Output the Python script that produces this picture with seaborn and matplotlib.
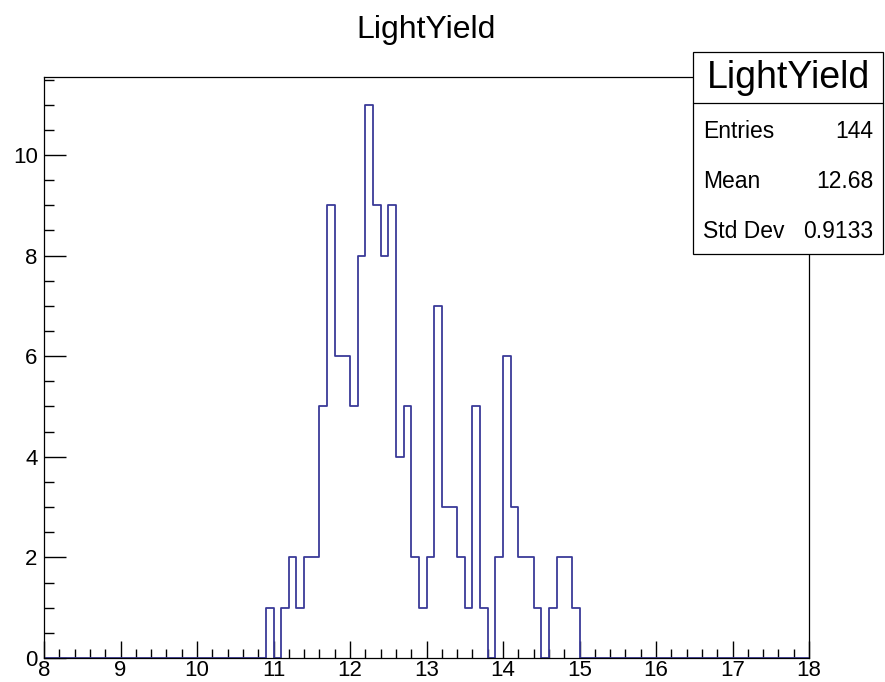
import numpy as np
import pandas as pd
import matplotlib
matplotlib.use("Agg")
import matplotlib.pyplot as plt
from matplotlib.patches import Rectangle
from matplotlib.ticker import MultipleLocator
import seaborn as sns

# ---- data (100 bins from 8 to 18) ----
bin_centers = [10.95, 11.05, 11.15, 11.25, 11.35, 11.45, 11.55, 11.65, 11.75, 11.85,
               11.95, 12.05, 12.15, 12.25, 12.35, 12.45, 12.55, 12.65, 12.75, 12.85,
               12.95, 13.05, 13.15, 13.25, 13.35, 13.45, 13.55, 13.65, 13.75, 13.85,
               13.95, 14.05, 14.15, 14.25, 14.35, 14.45, 14.55, 14.65, 14.75, 14.85,
               14.95]
counts = [1, 0, 1, 2, 1, 2, 2, 5, 9, 6,
          6, 5, 8, 11, 9, 8, 9, 4, 5, 2,
          1, 2, 7, 3, 3, 2, 1, 5, 1, 0,
          2, 6, 3, 2, 2, 1, 0, 1, 2, 2,
          1]
x_min, x_max, n_bins = 8, 18, 100
stats_labels = ["Entries", "Mean", "Std Dev"]
stats_values = ["144", "12.68", "0.9133"]
title = "LightYield"

df = pd.DataFrame({"LightYield": bin_centers, "count": counts})

sns.set_style("ticks")
plt.rcParams["font.family"] = ["Liberation Sans", "DejaVu Sans"]
plt.rcParams["text.color"] = "black"
plt.rcParams["xtick.color"] = "black"
plt.rcParams["ytick.color"] = "black"
plt.rcParams["xtick.labelcolor"] = "black"
plt.rcParams["ytick.labelcolor"] = "black"

fig = plt.figure(figsize=(8.85, 6.82), dpi=100)
ax = fig.add_axes([44 / 885, 1 - 658 / 682, (809 - 44) / 885, (658 - 77) / 682])

sns.histplot(data=df, x="LightYield", weights="count", bins=n_bins,
             binrange=(x_min, x_max),
             element="step", fill=False, color="#3a3a98", linewidth=1.3, ax=ax)

ax.set_xlim(x_min, x_max)
ax.set_ylim(0, 11.55)
ax.set_xlabel("")
ax.set_ylabel("")

for s in ax.spines.values():
    s.set_visible(True)
    s.set_color("black")
    s.set_linewidth(0.9)
    s.set_zorder(5)

ax.xaxis.set_major_locator(MultipleLocator(1))
ax.xaxis.set_minor_locator(MultipleLocator(0.2))
ax.yaxis.set_major_locator(MultipleLocator(2))
ax.yaxis.set_minor_locator(MultipleLocator(0.5))

ax.tick_params(axis="x", which="major", direction="in", length=12, width=1.0,
               labelsize=16, pad=1.5, top=False, colors="black")
ax.tick_params(axis="x", which="minor", direction="in", length=6.5, width=1.0, top=False,
               colors="black")
ax.tick_params(axis="y", which="major", direction="in", length=15.5, width=1.0,
               labelsize=16, pad=4.5, right=False, colors="black")
ax.tick_params(axis="y", which="minor", direction="in", length=7.2, width=1.0, right=False,
               colors="black")

# title
fig.text(426 / 885, 1 - 30 / 682, title, ha="center", va="center", fontsize=23,
         color="black")

# stats box
bl, br, bt, bb, bsep = 693 / 885, 883 / 885, 1 - 52 / 682, 1 - 254 / 682, 1 - 102.5 / 682
fig.patches.append(Rectangle((bl, bb), br - bl, bt - bb, transform=fig.transFigure,
                             facecolor="white", edgecolor="black", linewidth=0.9, zorder=10))
fig.lines.append(plt.Line2D([bl, br], [bsep, bsep], transform=fig.transFigure,
                            color="black", linewidth=0.9, zorder=11))
fig.text((bl + br) / 2, 1 - 78 / 682, title, ha="center", va="center", fontsize=27,
         color="black", zorder=12)
row_y = [131, 182, 232]
for lab, val, yy in zip(stats_labels, stats_values, row_y):
    fig.text(703 / 885, 1 - yy / 682, lab, ha="left", va="center", fontsize=16.5,
             color="black", zorder=12)
    fig.text(873 / 885, 1 - yy / 682, val, ha="right", va="center", fontsize=16.5,
             color="black", zorder=12)

fig.savefig("out.png", dpi=100)
